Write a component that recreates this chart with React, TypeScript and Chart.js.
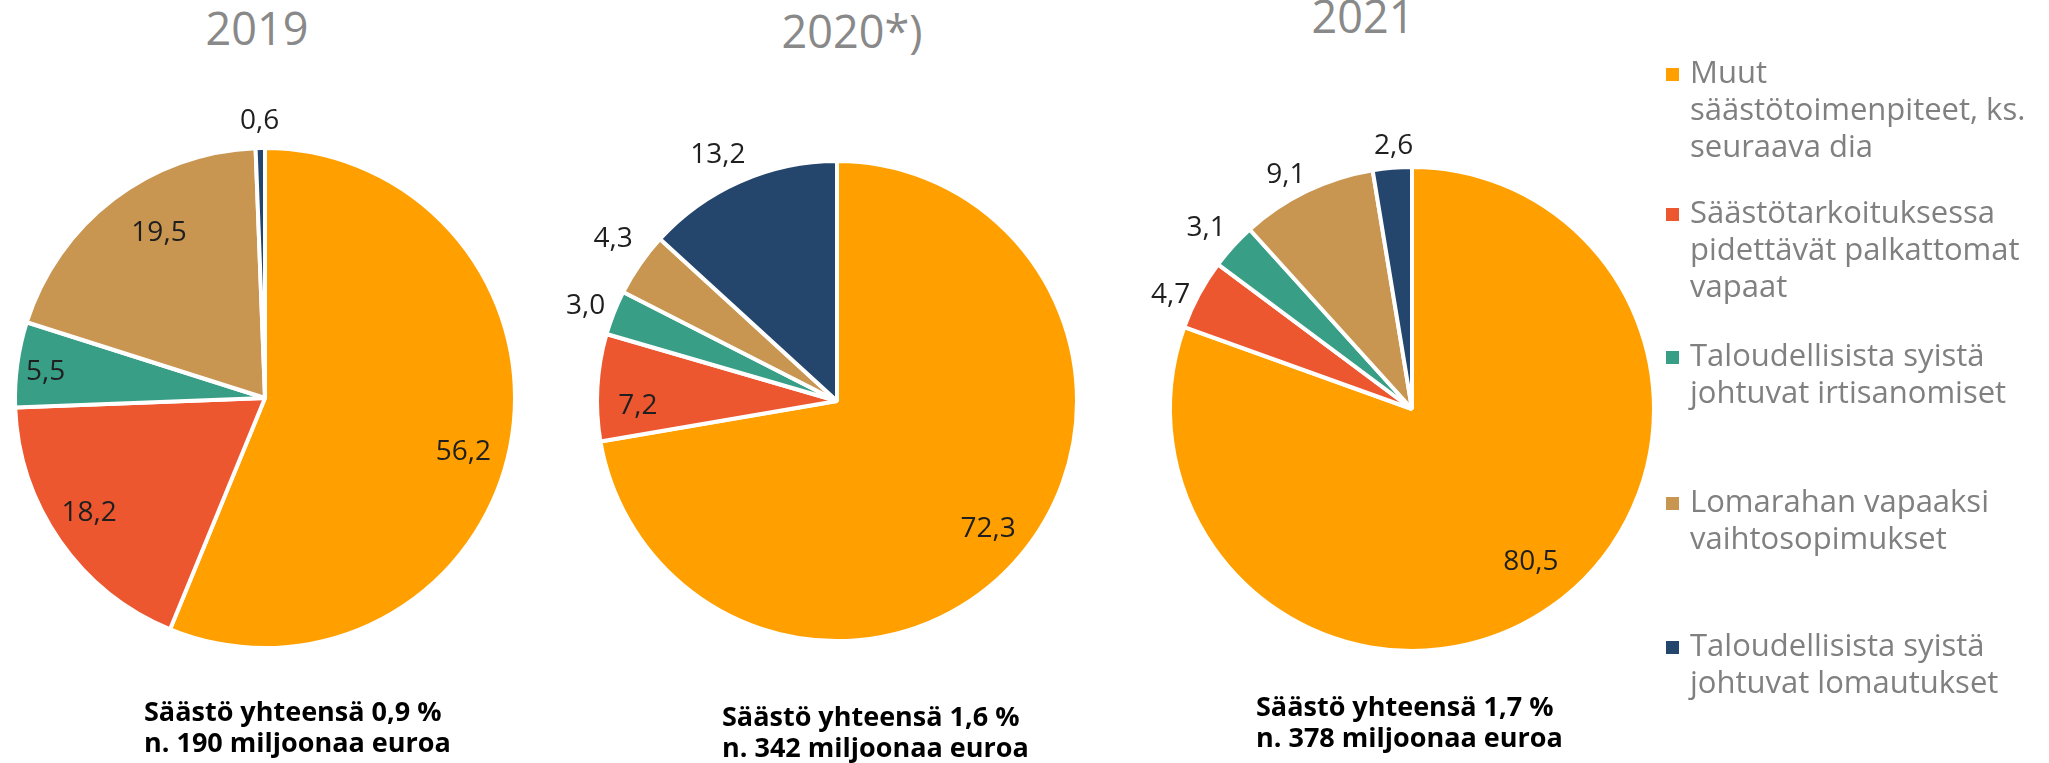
import React, { useEffect, useRef } from "react";
import { Chart, registerables } from "chart.js";

Chart.register(...registerables);

// ---------- data ----------
const categories: string[][] = [
  ["Muut", "säästötoimenpiteet, ks.", "seuraava dia"],
  ["Säästötarkoituksessa", "pidettävät palkattomat", "vapaat"],
  ["Taloudellisista syistä", "johtuvat irtisanomiset"],
  ["Lomarahan vapaaksi", "vaihtosopimukset"],
  ["Taloudellisista syistä", "johtuvat lomautukset"],
];
const years = ["2019", "2020*)", "2021"];
const values2019 = [56.2, 18.2, 5.5, 19.5, 0.6];
const values2020 = [72.3, 7.2, 3.0, 4.3, 13.2];
const values2021 = [80.5, 4.7, 3.1, 9.1, 2.6];
const totalPercent = ["0,9", "1,6", "1,7"];
const totalMillions = ["190", "342", "378"];

// ---------- styles / layout ----------
const colors = ["#FFA000", "#EC5730", "#389E86", "#C99652", "#24466D"];
const FONT = "'Open Sans', 'Noto Sans', sans-serif";

type PieLayout = {
  cx: number;
  cy: number;
  r: number;
  place: [number, number][]; // [radius factor, angle nudge in degrees]
  titleX: number;
  titleTop: number;
  noteLeft: number;
  noteTop: number;
};

const layouts: PieLayout[] = [
  {
    cx: 265, cy: 398, r: 250,
    place: [[0.82, 3.5], [0.836, 2.2], [0.885, -0.4], [0.79, 4.8], [1.117, 0]],
    titleX: 257, titleTop: 5, noteLeft: 144, noteTop: 695,
  },
  {
    cx: 837, cy: 401, r: 240,
    place: [[0.82, -0.3], [0.83, -4.1], [1.123, -0.5], [1.157, 1.5], [1.147, -1.9]],
    titleX: 852, titleTop: 8, noteLeft: 722, noteTop: 700,
  },
  {
    cx: 1412, cy: 409, r: 242,
    place: [[0.793, -3.2], [1.107, -2.6], [1.138, -0.7], [1.105, -2.4], [1.098, 0.7]],
    titleX: 1363, titleTop: -7, noteLeft: 1256, noteTop: 690,
  },
];
const seriesByYear = [values2019, values2020, values2021];
const legendTops = [53, 193, 336, 482, 626];

const valueLabels = {
  id: "valueLabels",
  afterDatasetsDraw(chart: any, _args: any, opts: any) {
    const ctx = chart.ctx as CanvasRenderingContext2D;
    const meta = chart.getDatasetMeta(0);
    const data = chart.data.datasets[0].data as number[];
    const size = opts.size || 28;
    ctx.save();
    ctx.font = `${size}px ${FONT}`;
    ctx.fillStyle = opts.color || "#222";
    ctx.textAlign = "center";
    ctx.textBaseline = "alphabetic";
    meta.data.forEach((arc: any, i: number) => {
      const p = arc.getProps(["x", "y", "startAngle", "endAngle", "outerRadius"], true);
      const [f, nudge] = opts.place[i];
      const a = (p.startAngle + p.endAngle) / 2 + (nudge * Math.PI) / 180;
      const tx = p.x + Math.cos(a) * p.outerRadius * f;
      const ty = p.y + Math.sin(a) * p.outerRadius * f;
      const txt = data[i].toFixed(1).replace(".", ",");
      ctx.fillText(txt, tx, ty + size * 0.357);
    });
    ctx.restore();
  },
};

function Pie({ values, layout }: { values: number[]; layout: PieLayout }) {
  const ref = useRef<HTMLCanvasElement>(null);
  const W = 680;
  const H = 680;
  useEffect(() => {
    const chart = new Chart(ref.current as HTMLCanvasElement, {
      type: "pie",
      data: {
        labels: categories.map((c) => c.join(" ")),
        datasets: [
          {
            data: values,
            backgroundColor: colors,
            borderColor: "#ffffff",
            borderWidth: 4,
          } as any,
        ],
      },
      options: {
        responsive: false,
        animation: false,
        radius: layout.r,
        layout: { padding: 0 },
        plugins: {
          legend: { display: false },
          tooltip: { enabled: false },
          title: { display: false },
          valueLabels: { place: layout.place, size: 28, color: "#1f1f1f" },
        } as any,
      } as any,
      plugins: [valueLabels as any],
    });
    return () => chart.destroy();
  }, []);
  return (
    <canvas
      ref={ref}
      width={W}
      height={H}
      style={{
        position: "absolute",
        left: layout.cx - W / 2,
        top: layout.cy - H / 2,
        width: W,
        height: H,
      }}
    />
  );
}

export default function App() {
  return (
    <div
      style={{
        position: "absolute",
        left: 0,
        top: 0,
        width: 2049,
        height: 763,
        overflow: "hidden",
        background: "#ffffff",
        fontFamily: FONT,
      }}
    >
      {layouts.map((l, i) => (
        <Pie key={"pie" + i} values={seriesByYear[i]} layout={l} />
      ))}
      {layouts.map((l, i) => (
        <div
          key={"title" + i}
          style={{
            position: "absolute",
            left: l.titleX - 200,
            top: l.titleTop,
            width: 400,
            textAlign: "center",
            fontSize: 45,
            lineHeight: "45px",
            color: "#898989",
            whiteSpace: "nowrap",
          }}
        >
          {years[i]}
        </div>
      ))}
      {layouts.map((l, i) => (
        <div
          key={"note" + i}
          style={{
            position: "absolute",
            left: l.noteLeft,
            top: l.noteTop,
            fontSize: 27,
            lineHeight: "31px",
            fontWeight: 700,
            color: "#000000",
            whiteSpace: "nowrap",
          }}
        >
          <div>{`Säästö yhteensä ${totalPercent[i]} %`}</div>
          <div>{`n. ${totalMillions[i]} miljoonaa euroa`}</div>
        </div>
      ))}
      {categories.map((lines, i) => (
        <div key={"leg" + i} style={{ position: "absolute", left: 1666, top: legendTops[i] }}>
          <div
            style={{
              position: "absolute",
              left: 0,
              top: 15,
              width: 13,
              height: 13,
              background: colors[i],
            }}
          />
          <div
            style={{
              position: "absolute",
              left: 24,
              top: 0,
              fontSize: 31,
              lineHeight: "37px",
              color: "#808080",
              whiteSpace: "nowrap",
            }}
          >
            {lines.map((t, j) => (
              <div key={j}>{t}</div>
            ))}
          </div>
        </div>
      ))}
    </div>
  );
}
